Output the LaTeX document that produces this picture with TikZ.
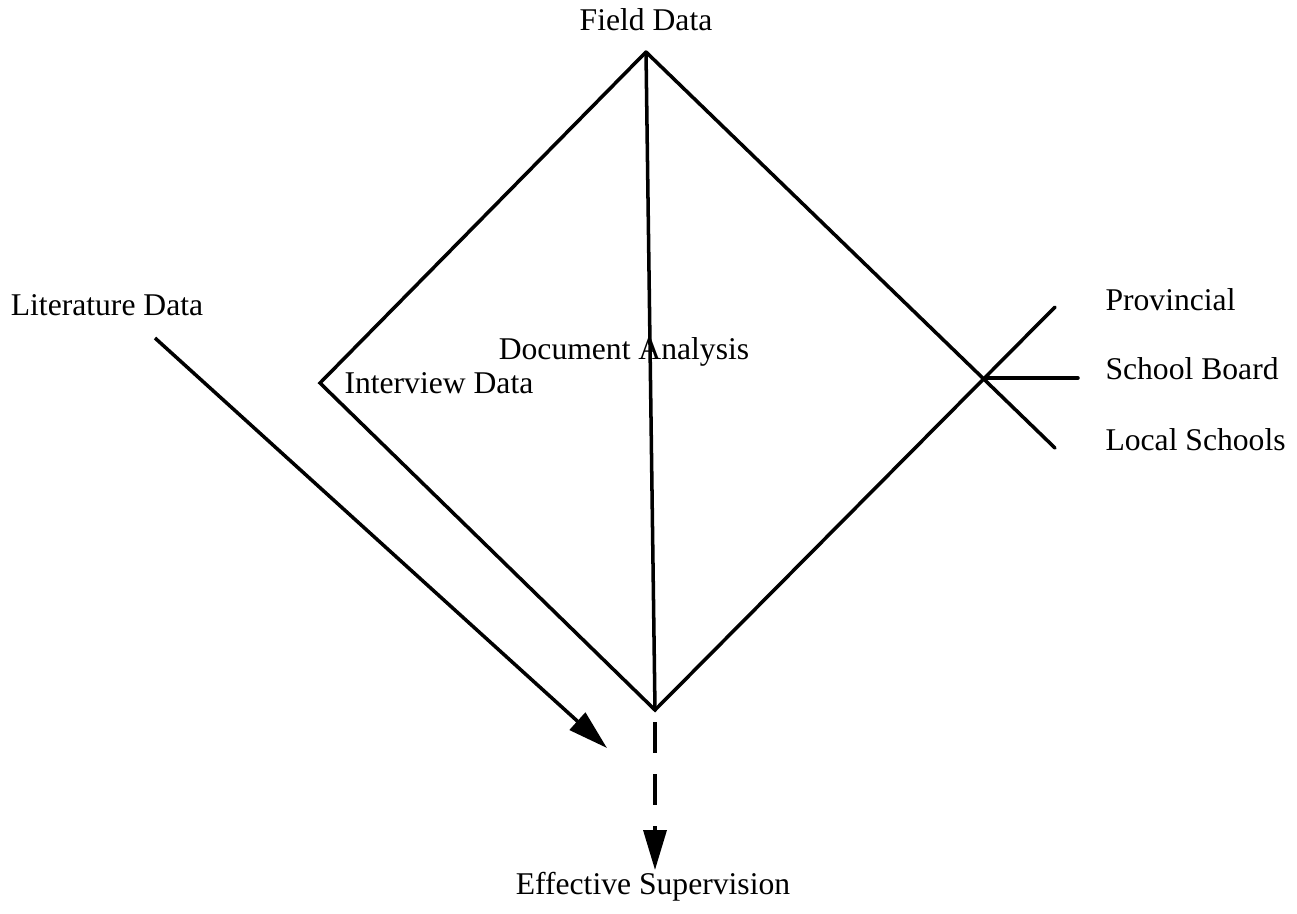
\documentclass[tikz,border=0pt]{standalone}
\usepackage{fontspec}
\setmainfont{Liberation Serif}
\usepackage{tikz}
\usetikzlibrary{arrows.meta,positioning}

\begin{document}
\begin{tikzpicture}[
        line width=2pt,
        label/.style={font=\fontsize{18}{21}\selectfont, inner sep=1pt},
        edge/.style={line cap=round, line join=miter},
        bigarrow/.style={-{Triangle[length=8mm,width=4.6mm]}}
    ]
        \useasboundingbox (0,0) rectangle (25.94,-18.26);
        % vertices of the diamond
        \coordinate (top) at (12.92,-1.04);
        \coordinate (left) at (6.40,-7.66);
        \coordinate (bottom) at (13.10,-14.20);
        \coordinate (cross) at (19.70,-7.56);
        \coordinate (prov) at (21.10,-6.14);
        \coordinate (board) at (21.56,-7.56);
        \coordinate (local) at (21.10,-8.96);
        \coordinate (litstart) at (3.10,-6.76);
        \coordinate (litend) at (12.14,-14.96);
        \coordinate (dashstart) at (13.10,-14.44);
        \coordinate (dashend) at (13.10,-17.40);

        % Labels
        \node[label] (field) at (12.92,-0.40) {Field Data};
        \node[label] (lit) at (2.14,-6.10) {Literature Data};
        \node[label] (doc) at (12.48,-7.04) {Document Analysis};
        \node[label, anchor=west] (interview) at (6.82,-7.66) {Interview Data};
        \node[label, anchor=west] (provl) at (22.04,-6.00) {Provincial};
        \node[label, anchor=west] (boardl) at (22.04,-7.38) {School Board};
        \node[label, anchor=west] (locall) at (22.04,-8.80) {Local Schools};
        \node[label] (effective) at (13.06,-17.74) {Effective Supervision};

        % Connections
        \draw[edge] (top) -- (left) -- (bottom) -- (prov);
        \draw[edge] (top) -- (local);
        \draw[edge] (top) -- (bottom);
        \draw[edge] (cross) -- (board);
        \draw[bigarrow] (litstart) -- (litend);
        \draw[bigarrow, dash pattern=on 0.62cm off 0.42cm] (dashstart) -- (dashend);
    \end{tikzpicture}
\end{document}
